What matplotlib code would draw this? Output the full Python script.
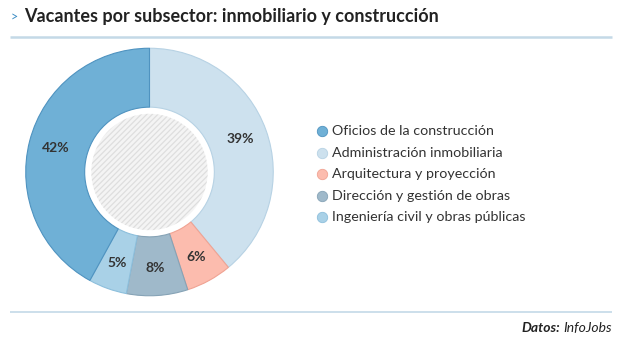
import matplotlib
matplotlib.use("Agg")
import matplotlib.pyplot as plt
from matplotlib.patches import Circle
import numpy as np

plt.rcParams['font.family'] = ['Lato', 'DejaVu Sans']
plt.rcParams['hatch.linewidth'] = 0.9

title = "Vacantes por subsector: inmobiliario y construcción"
categories = ["Oficios de la construcción", "Administración inmobiliaria",
              "Arquitectura y proyección", "Dirección y gestión de obras",
              "Ingeniería civil y obras públicas"]
values = [42, 39, 6, 8, 5]
colors = ["#6fb0d6", "#cde1ee", "#fcbcae", "#9fb9ca", "#a9d1e7"]
edges = ["#4f93c0", "#b7d2e4", "#f0a393", "#86a3b6", "#8dbfdc"]
# clockwise drawing order starting at 12 o'clock
pie_order = [1, 2, 3, 4, 0]
source_bold = "Datos:"
source_rest = "InfoJobs"

W, H = 640, 351
fig = plt.figure(figsize=(W / 100, H / 100), dpi=100)
fig.patch.set_facecolor("white")

# overlay axes in pixel coordinates
ov = fig.add_axes([0, 0, 1, 1])
ov.set_xlim(0, W)
ov.set_ylim(H, 0)
ov.axis("off")

# title and rules
ov.text(11, 17, ">", fontsize=9, color="#3a8cc4", va="center", ha="left")
ov.text(24, 16.5, title, fontsize=13, fontweight="bold", color="#222222",
        va="center", ha="left")
ov.plot([10, 612], [37, 37], color="#c4d9e7", lw=1.8, solid_capstyle="butt")
ov.plot([10, 612], [312, 312], color="#c4d9e7", lw=1.2, solid_capstyle="butt")

# source
t2 = ov.text(612, 328, source_rest, fontsize=10, style="italic", color="#222222",
             ha="right", va="center")
fig.canvas.draw()
bb = t2.get_window_extent()
ov.annotate(source_bold, xy=(bb.x0 - 3, bb.y0 + bb.height / 2), xycoords="figure pixels",
            fontsize=10, style="italic", fontweight="bold", color="#222222",
            ha="right", va="center")

# legend
for i, (cat, col, ec) in enumerate(zip(categories, colors, edges)):
    y = 131 + i * 21.6
    ov.scatter([322], [y], s=56, color=col, edgecolor=ec, linewidth=0.6, zorder=3)
    ov.text(332, y, cat, fontsize=10.3, color="#333333", va="center", ha="left")

# donut
cx, cy, R = 149.5, 172, 125
ax = fig.add_axes([(cx - R) / W, (H - cy - R) / H, 2 * R / W, 2 * R / H])
vals = [values[i] for i in pie_order]
cols = [colors[i] for i in pie_order]
ecs = [edges[i] for i in pie_order]
wedges, _ = ax.pie(vals, colors=cols, startangle=90, counterclock=False,
                   radius=1.0, wedgeprops=dict(width=0.476, linewidth=0.8))
for w, ec in zip(wedges, ecs):
    w.set_edgecolor(ec)

total = sum(vals)
start = 90.0
for v in vals:
    ang = start - v / total * 360 / 2
    start -= v / total * 360
    r = 0.78
    ax.text(r * np.cos(np.radians(ang)), r * np.sin(np.radians(ang)), f"{v}%",
            ha="center", va="center", fontsize=10, fontweight="bold", color="#333333")

center = Circle((0, 0), 0.47, facecolor="#f4f4f4", edgecolor="#dedede",
                hatch="//////", linewidth=0)
ax.add_patch(center)
ax.set_xlim(-1.01, 1.01)
ax.set_ylim(-1.01, 1.01)
ax.set_aspect("equal")
ax.axis("off")

fig.savefig("out.png", dpi=100, facecolor="white")
